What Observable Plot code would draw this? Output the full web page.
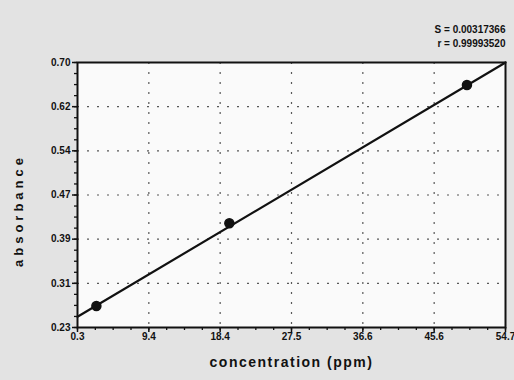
<!DOCTYPE html>
<html>
<head>
<meta charset="utf-8">
<script src="https://cdn.jsdelivr.net/npm/d3@7"></script>
<script src="https://cdn.jsdelivr.net/npm/@observablehq/plot@0.6"></script>
<style>
  html, body { margin: 0; padding: 0; background: #e3e3e3; }
  #chart { width: 514px; height: 380px; overflow: hidden; }
  svg { font-family: "Liberation Sans", Arial, sans-serif; }
</style>
</head>
<body>
<div id="chart"></div>
<script>
// Data
const concentration = [2.7, 19.6, 49.8];
const absorbance = [0.268, 0.415, 0.660];
// Fitted line endpoints (as drawn across the full x range)
const fitX = [0.3, 54.7];
const fitY = [0.249, 0.700];
// Axis tick labels
const xTickLabels = ["0.3", "9.4", "18.4", "27.5", "36.6", "45.6", "54.7"];
const yTickLabels = ["0.23", "0.31", "0.39", "0.47", "0.54", "0.62", "0.70"];
const statLines = ["S = 0.00317366", "r = 0.99993520"];
const xLabel = "concentration (ppm)";
const yLabel = "absorbance";

const xDomain = [0.3, 54.7];
const yDomain = [0.23, 0.70];
const xMajor = d3.range(7).map(i => xDomain[0] + i * (xDomain[1] - xDomain[0]) / 6);
const yMajor = d3.range(7).map(i => yDomain[0] + i * (yDomain[1] - yDomain[0]) / 6);
const xMinor = d3.range(25).map(i => xDomain[0] + i * (xDomain[1] - xDomain[0]) / 24);
const yMinor = d3.range(25).map(i => yDomain[0] + i * (yDomain[1] - yDomain[0]) / 24);

const points = concentration.map((c, i) => ({x: c, y: absorbance[i]}));
const fit = fitX.map((x, i) => ({x, y: fitY[i]}));

const chart = Plot.plot({
  width: 514,
  height: 380,
  marginLeft: 77,
  marginRight: 9,
  marginTop: 62,
  marginBottom: 53,
  style: {background: "transparent", color: "#111"},
  x: {domain: xDomain},
  y: {domain: yDomain},
  marks: [
    Plot.frame({fill: "#fafafa", stroke: null}),
    Plot.gridX({ticks: xMajor.slice(1, -1), stroke: "#222", strokeOpacity: 0.75, strokeWidth: 1.2, strokeDasharray: "2,8"}),
    Plot.gridY({ticks: yMajor.slice(1, -1), stroke: "#222", strokeOpacity: 0.75, strokeWidth: 1.2, strokeDasharray: "2,8"}),
    Plot.axisX({ticks: xMinor, tickSize: 3, tickFormat: () => "", label: null, strokeWidth: 1.3}),
    Plot.axisY({ticks: yMinor, tickSize: 3, tickFormat: () => "", label: null, strokeWidth: 1.3}),
    Plot.axisX({ticks: xMajor, tickSize: 5, tickPadding: 0, tickFormat: (d, i) => xTickLabels[i], label: null, fontSize: 10, fontWeight: "bold", strokeWidth: 1.5}),
    Plot.axisY({ticks: yMajor, tickSize: 5, tickPadding: 2, tickFormat: (d, i) => yTickLabels[i], label: null, fontSize: 10, fontWeight: "bold", strokeWidth: 1.5}),
    Plot.frame({stroke: "#111", strokeWidth: 2}),
    Plot.line(fit, {x: "x", y: "y", stroke: "#111", strokeWidth: 2.2}),
    Plot.dot(points, {x: "x", y: "y", r: 4.5, fill: "#111", stroke: "#111"}),
    Plot.text(statLines, {text: d => d, frameAnchor: "top-right", textAnchor: "end", fontSize: 10, fontWeight: "bold"}),
    Plot.text([xLabel], {frameAnchor: "bottom", dy: 39, fontSize: 14, fontWeight: "bold"}),
    Plot.text([yLabel], {frameAnchor: "left", textAnchor: "middle", rotate: -90, fontSize: 13, fontWeight: "bold"})
  ]
});
// position stat lines above the frame and the y label
d3.select(chart).selectAll("text").each(function() {
  const txt = this.textContent;
  const t = d3.select(this);
  const idx = statLines.indexOf(txt);
  if (idx >= 0) {
    t.attr("transform", null).attr("x", 505).attr("y", 32 + idx * 14).attr("text-anchor", "end");
  } else if (txt === yLabel) {
    t.attr("x", null).attr("y", null).attr("text-anchor", "middle")
      .style("letter-spacing", "4px")
      .attr("transform", "translate(22,210) rotate(-90)");
  } else if (txt === xLabel) {
    t.style("letter-spacing", "1.5px");
  }
});
document.getElementById("chart").appendChild(chart);
</script>
</body>
</html>
